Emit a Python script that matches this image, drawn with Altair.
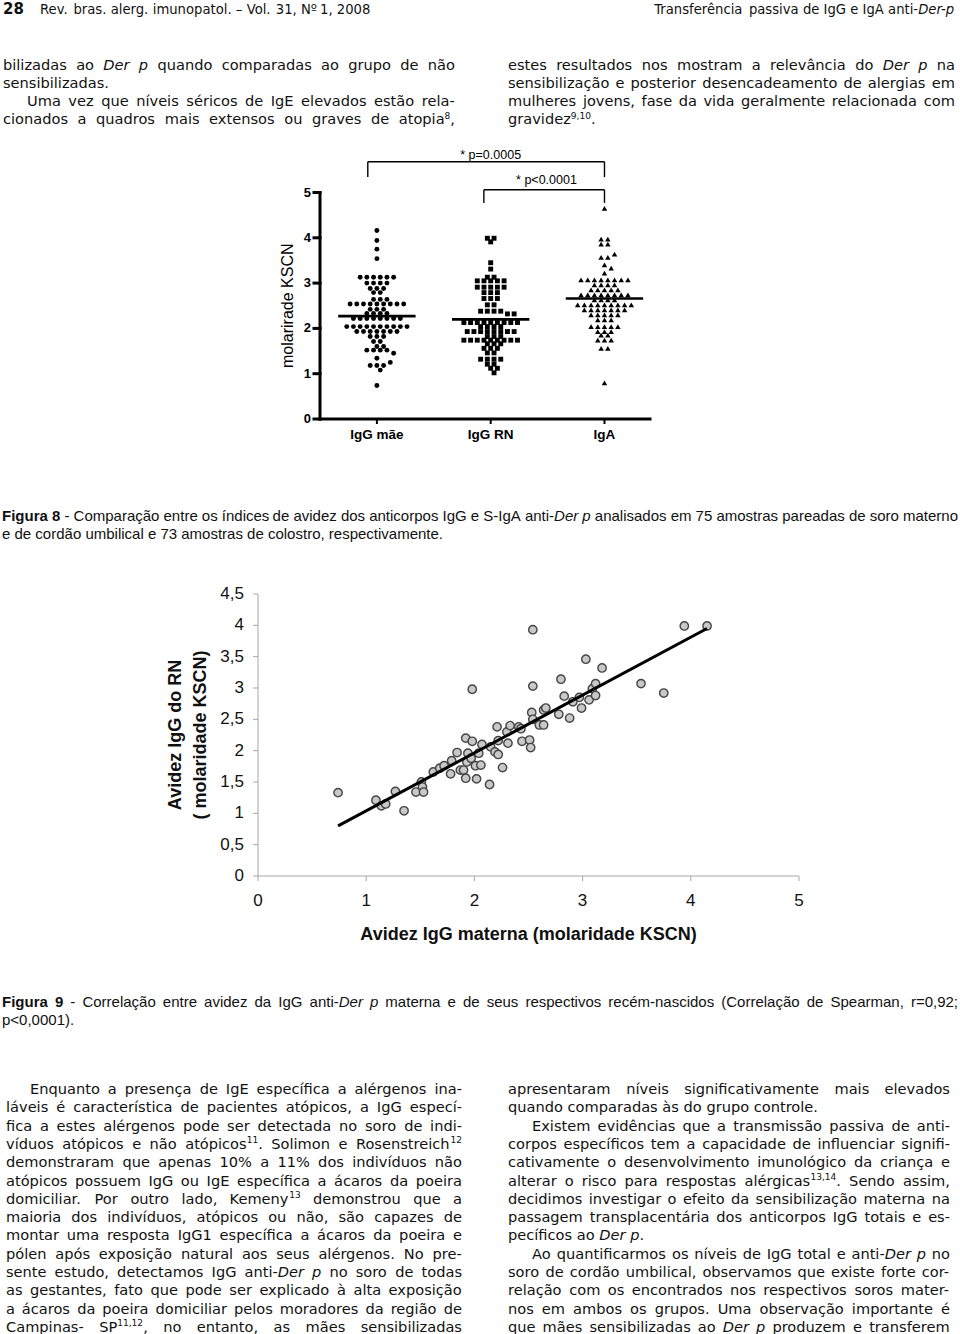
import unicodedata
import altair as alt
import pandas as pd

PAGE_W, PAGE_H = 960, 1334

# ======================= DATA =======================
# ---- Figure 8: dot plot rows (value of the row, number of dots in it) ----
fig8_groups = ["IgG mãe", "IgG RN", "IgA"]
mae_vals = [4.16, 3.94, 3.75, 3.54, 3.13, 3.00, 2.88, 2.79, 2.64, 2.54, 2.42, 2.33, 2.22,
            2.04, 1.93, 1.82, 1.71, 1.60, 1.52, 1.45, 1.34, 1.25, 1.18, 1.08, 0.74]
mae_cnts = [1, 1, 1, 1, 6, 4, 3, 2, 3, 9, 3, 4, 8, 10, 7, 3, 2, 2, 4, 1, 1, 1, 3, 1, 1]
rn_vals = [3.99, 3.91, 3.45, 3.31, 3.13, 3.05, 2.91, 2.79, 2.66, 2.52, 2.38, 2.32, 2.13,
           2.04, 1.93, 1.82, 1.74, 1.66, 1.56, 1.46, 1.32, 1.21, 1.12, 1.02]
rn_cnts = [2, 1, 1, 1, 2, 5, 5, 3, 3, 2, 4, 2, 9, 4, 8, 3, 9, 3, 3, 2, 4, 2, 2, 1]
iga_vals = [4.65, 3.97, 3.86, 3.64, 3.57, 3.40, 3.33, 3.22, 3.07, 2.96, 2.85, 2.74, 2.63,
            2.52, 2.41, 2.30, 2.19, 2.04, 1.93, 1.85, 1.74, 1.56, 0.80]
iga_cnts = [1, 2, 2, 1, 2, 1, 1, 1, 8, 4, 5, 8, 4, 9, 7, 5, 3, 5, 3, 2, 3, 2, 1]
fig8_medians = [2.27, 2.20, 2.66]
fig8_y_ticks = [0, 1, 2, 3, 4, 5]
fig8_y_title = "molarirade KSCN"

bracket_labels = ["* p=0.0005", "* p<0.0001"]
bracket_left = [0.92, 1.94]
bracket_right = [3.0, 3.0]
bracket_top = [5.68, 5.06]
bracket_foot = [5.34, 4.77]
bracket_label_x = [2.0, 2.49]
bracket_label_y = [5.83, 5.28]

# ---- Figure 9: maternal vs newborn IgG avidity ----
mat_avidity = [0.74, 1.09, 1.14, 1.18, 1.27, 1.35, 1.46, 1.51, 1.52, 1.53,
               1.62, 1.68, 1.72, 1.78, 1.79, 1.84, 1.87, 1.90, 1.92, 1.92,
               1.93, 1.94, 1.97, 1.98, 1.98, 2.01, 2.02, 2.04, 2.06, 2.07,
               2.14, 2.15, 2.19, 2.21, 2.22, 2.22, 2.26, 2.30, 2.31, 2.33,
               2.41, 2.43, 2.44, 2.51, 2.52, 2.53, 2.54, 2.54, 2.54, 2.60,
               2.64, 2.64, 2.66, 2.78, 2.80, 2.83, 2.88, 2.91, 2.97, 2.99,
               3.03, 3.06, 3.09, 3.12, 3.12, 3.18, 3.54, 3.75, 3.94, 4.15]
rn_avidity = [1.33, 1.21, 1.12, 1.15, 1.35, 1.04, 1.34, 1.50, 1.42, 1.34,
              1.66, 1.72, 1.76, 1.63, 1.84, 1.97, 1.69, 1.69, 2.20, 1.56,
              1.82, 1.96, 1.88, 2.98, 2.15, 1.76, 1.55, 1.96, 1.77, 2.10,
              1.46, 2.06, 1.98, 2.38, 1.94, 2.16, 1.73, 2.30, 2.12, 2.40,
              2.38, 2.35, 2.15, 2.17, 2.05, 2.61, 3.03, 3.93, 2.50, 2.41,
              2.41, 2.65, 2.68, 2.58, 3.14, 2.87, 2.52, 2.78, 2.85, 2.68,
              3.46, 2.81, 2.99, 2.88, 3.07, 3.32, 3.07, 2.92, 3.99, 3.99]
fit_x = [0.74, 4.15]
fit_y = [0.80, 3.95]
fig9_x_ticks = [0, 1, 2, 3, 4, 5]
fig9_y_ticks = [0, 0.5, 1, 1.5, 2, 2.5, 3, 3.5, 4, 4.5]
fig9_x_title = "Avidez IgG materna (molaridade KSCN)"
fig9_y_title = ["Avidez IgG do RN", "( molaridade KSCN)"]

# ---- Page text (markup: *italic*, #bold#, ^superscript^) ----
header_num = "28"
header_left = "Rev. bras. alerg. imunopatol. – Vol. 31, Nº 1, 2008"
header_right = "Transferência passiva de IgG e IgA anti-*Der-p*"

top_left_lines = [
    "bilizadas ao *Der p* quando comparadas ao grupo de não",
    "sensibilizadas.",
    "Uma vez que níveis séricos de IgE elevados estão rela-",
    "cionados a quadros mais extensos ou graves de atopia^8^,",
]
top_right_lines = [
    "estes resultados nos mostram a relevância do *Der p* na",
    "sensibilização e posterior desencadeamento de alergias em",
    "mulheres jovens, fase da vida geralmente relacionada com",
    "gravidez^9,10^.",
]
fig8_caption = [
    "#Figura 8# - Comparação entre os índices de avidez dos anticorpos IgG e S-IgA anti-*Der p* analisados em 75 amostras pareadas de soro materno",
    "e de cordão umbilical e 73 amostras de colostro, respectivamente.",
]
fig9_caption = [
    "#Figura 9# - Correlação entre avidez da IgG anti-*Der p* materna e de seus respectivos recém-nascidos (Correlação de Spearman, r=0,92;",
    "p<0,0001).",
]
bottom_left_lines = [
    "Enquanto a presença de IgE específica a alérgenos ina-",
    "láveis é característica de pacientes atópicos, a IgG especí-",
    "fica a estes alérgenos pode ser detectada no soro de indi-",
    "víduos atópicos e não atópicos^11^. Solimon e Rosenstreich^12^",
    "demonstraram que apenas 10% a 11% dos indivíduos não",
    "atópicos possuem IgG ou IgE específica a ácaros da poeira",
    "domiciliar. Por outro lado, Kemeny^13^ demonstrou que a",
    "maioria dos indivíduos, atópicos ou não, são capazes de",
    "montar uma resposta IgG1 específica a ácaros da poeira e",
    "pólen após exposição natural aos seus alérgenos. No pre-",
    "sente estudo, detectamos IgG anti-*Der p* no soro de todas",
    "as gestantes, fato que pode ser explicado à alta exposição",
    "a ácaros da poeira domiciliar pelos moradores da região de",
    "Campinas- SP^11,12^, no entanto, as mães sensibilizadas",
]
bottom_right_lines = [
    "apresentaram níveis significativamente mais elevados",
    "quando comparadas às do grupo controle.",
    "Existem evidências que a transmissão passiva de anti-",
    "corpos específicos tem a capacidade de influenciar signifi-",
    "cativamente o desenvolvimento imunológico da criança e",
    "alterar o risco para respostas alérgicas^13,14^. Sendo assim,",
    "decidimos investigar o efeito da sensibilização materna na",
    "passagem transplacentária dos anticorpos IgG totais e es-",
    "pecíficos ao *Der p*.",
    "Ao quantificarmos os níveis de IgG total e anti-*Der p* no",
    "soro de cordão umbilical, observamos que existe forte cor-",
    "relação com os encontrados nos respectivos soros mater-",
    "nos em ambos os grupos. Uma observação importante é",
    "que mães sensibilizadas ao *Der p* produzem e transferem",
]
# paragraph structure (which lines start / end a paragraph)
top_left_par_start, top_left_par_end = {2}, {1}
top_right_par_start, top_right_par_end = set(), {3}
bottom_left_par_start, bottom_left_par_end = {0}, set()
bottom_right_par_start, bottom_right_par_end = {2, 9}, {1, 8}

# ======================= TEXT LAYOUT =======================
DV = {}
for ch, w in zip("ABCDEFGHIJKLMNOPQRSTUVWXYZ",
                 [1401, 1405, 1430, 1577, 1294, 1178, 1587, 1540, 604, 604, 1343, 1141, 1767,
                  1532, 1612, 1235, 1612, 1423, 1300, 1251, 1499, 1401, 2025, 1403, 1251, 1403]):
    DV[ch] = w / 2048
for ch, w in zip("abcdefghijklmnopqrstuvwxyz",
                 [1255, 1300, 1126, 1300, 1260, 721, 1300, 1298, 569, 569, 1186, 569, 1995,
                  1298, 1253, 1300, 1300, 842, 1067, 803, 1298, 1212, 1675, 1212, 1212, 1075]):
    DV[ch] = w / 2048
for ch in "0123456789":
    DV[ch] = 1303 / 2048
for ch, w in {' ': 651, ',': 651, '.': 651, '-': 739, '(': 799, ')': 799, ':': 690, ';': 690,
              '%': 1946, '<': 1716, '=': 1716, '–': 1024, 'º': 768, '*': 1024}.items():
    DV[ch] = w / 2048

AR = {}
for ch, w in zip("ABCDEFGHIJKLMNOPQRSTUVWXYZ",
                 [667, 667, 722, 722, 667, 611, 778, 722, 278, 500, 667, 556, 833, 722, 778, 667,
                  778, 722, 667, 611, 722, 667, 944, 667, 667, 611]):
    AR[ch] = w / 1000
for ch, w in zip("abcdefghijklmnopqrstuvwxyz",
                 [556, 556, 500, 556, 556, 278, 556, 556, 222, 222, 500, 222, 833, 556, 556, 556,
                  556, 333, 500, 278, 556, 500, 722, 500, 500, 500]):
    AR[ch] = w / 1000
for ch in "0123456789":
    AR[ch] = 0.556
for ch, w in {' ': 278, ',': 278, '.': 278, '-': 333, '(': 333, ')': 333, ':': 278, ';': 278,
              '%': 889, '<': 584, '=': 584, '*': 389}.items():
    AR[ch] = w / 1000
ARB = dict(AR)
for ch, w in zip("abcdefghijklmnopqrstuvwxyz",
                 [556, 611, 556, 611, 556, 333, 611, 611, 278, 278, 556, 278, 889, 611, 611, 611,
                  611, 389, 556, 333, 611, 556, 778, 556, 556, 500]):
    ARB[ch] = w / 1000

FONTS = {"dv": "DejaVu Sans", "ar": "Liberation Sans"}
SUP_SCALE, SUP_RISE = 0.62, 0.40


def char_w(ch, fam, bold):
    table = DV if fam == "dv" else (ARB if bold else AR)
    if ch in table:
        return table[ch]
    base = unicodedata.normalize("NFD", ch)[0]
    return table.get(base, 0.6)


def seg_w(text, fam, bold, sup, size):
    s = size * (SUP_SCALE if sup else 1.0)
    return sum(char_w(c, fam, bold) for c in text) * s


def parse(markup):
    words, it, bold, sup = [], False, False, False
    for raw in markup.split(" "):
        segs, buf = [], ""
        for ch in raw:
            if ch in "*#^":
                if buf:
                    segs.append((buf, it, bold, sup))
                    buf = ""
                if ch == "*":
                    it = not it
                elif ch == "#":
                    bold = not bold
                else:
                    sup = not sup
            else:
                buf += ch
        if buf:
            segs.append((buf, it, bold, sup))
        if segs:
            words.append(segs)
    return words


items = []


def add_item(text, x, y, size, fam, it, bold):
    items.append({"text": text, "x": x, "y": y, "size": size, "fam": fam,
                  "it": bool(it), "bold": bool(bold)})


def line_width(markup, fam, size):
    words = parse(markup)
    ws = [sum(seg_w(t, fam, b, s, size) for t, i, b, s in w) for w in words]
    return sum(ws) + char_w(" ", fam, False) * size * (len(words) - 1)


def set_line(markup, x0, x1, y, size, fam, justify):
    words = parse(markup)
    ws = [sum(seg_w(t, fam, b, s, size) for t, i, b, s in w) for w in words]
    space = char_w(" ", fam, False) * size
    gap = space
    if justify and len(words) > 1:
        gap = max((x1 - x0 - sum(ws)) / (len(words) - 1), space * 0.45)
    x = x0
    for w, wd in zip(words, ws):
        cx = x
        for t, i, b, s in w:
            if s:
                add_item(t, cx, y - SUP_RISE * size, size * SUP_SCALE, fam, i, b)
            else:
                add_item(t, cx, y, size, fam, i, b)
            cx += seg_w(t, fam, b, s, size)
        x += wd + gap


def set_block(lines, x0, x1, y0, lh, size, fam, starts, ends, indent=24):
    for k, ln in enumerate(lines):
        xs = x0 + (indent if k in starts else 0)
        set_line(ln, xs, x1, y0 + k * lh, size, fam, k not in ends)


BODY = 14.6
LH = 18.3
add_item(header_num, 3, 14, 15, "dv", False, True)
set_line(header_left, 40, 400, 13.5, 13.2, "dv", False)
set_line(header_right, 955 - line_width(header_right, "dv", 13.2), 955, 13.5, 13.2, "dv", False)
set_block(top_left_lines, 3, 455, 69.5, LH, BODY, "dv", top_left_par_start, top_left_par_end)
set_block(top_right_lines, 508, 955, 69.5, LH, BODY, "dv", top_right_par_start, top_right_par_end)
set_block(fig8_caption, 2, 958, 521, 18, 15, "ar", set(), {1})
set_block(fig9_caption, 2, 958, 1007, 18, 15, "ar", set(), {1})
set_block(bottom_left_lines, 6, 462, 1094, LH, BODY, "dv", bottom_left_par_start, bottom_left_par_end)
set_block(bottom_right_lines, 508, 950, 1094, LH, BODY, "dv", bottom_right_par_start, bottom_right_par_end)

tdf = pd.DataFrame(items)
text_layers = []
for (fam, it, bold), sub in tdf.groupby(["fam", "it", "bold"]):
    text_layers.append(
        alt.Chart(sub.reset_index(drop=True)).mark_text(
            font=FONTS[fam], fontStyle="italic" if it else "normal",
            fontWeight="bold" if bold else "normal", align="left",
            baseline="alphabetic", color="#111"
        ).encode(
            x=alt.X("x:Q", scale=None, axis=None),
            y=alt.Y("y:Q", scale=None, axis=None),
            text="text:N",
            size=alt.Size("size:Q", scale=None),
        )
    )


# ======================= helpers for scaled marks =======================
def rule_layer(segments, sx, sy, color, width, cap="butt"):
    return alt.Chart(pd.DataFrame(segments)).mark_rule(
        color=color, strokeWidth=width, strokeCap=cap
    ).encode(
        x=alt.X("xa:Q", scale=sx, axis=None), x2="xb:Q",
        y=alt.Y("ya:Q", scale=sy, axis=None), y2="yb:Q",
    )


def text_layer(tx, ty, labels, sx, sy, **kw):
    return alt.Chart(pd.DataFrame({"tx": tx, "ty": ty, "t": labels})).mark_text(**kw).encode(
        x=alt.X("tx:Q", scale=sx, axis=None),
        y=alt.Y("ty:Q", scale=sy, axis=None),
        text="t:N",
    )


# ======================= FIGURE 8 =======================
X8_DOMAIN, X8_RANGE = [0.5, 3.4], [320, 650]
Y8_DOMAIN, Y8_RANGE = [0, 5], [419, 192.5]
PX_X8 = (X8_RANGE[1] - X8_RANGE[0]) / (X8_DOMAIN[1] - X8_DOMAIN[0])
PX_Y8 = (Y8_RANGE[0] - Y8_RANGE[1]) / (Y8_DOMAIN[1] - Y8_DOMAIN[0])
DOT_STEP, MIN_DIST = 6.7, 4.7


def swarm(vals, cnts):
    order = sorted(range(len(vals)), key=lambda i: -cnts[i])
    placed, out = [], []
    shifts = [0, 0.5, -0.5, 1, -1, 1.5, -1.5, 2, -2, 2.5, -2.5, 3, -3]
    for i in order:
        n, ypx = cnts[i], vals[i] * PX_Y8
        base = [(k - (n - 1) / 2) * DOT_STEP for k in range(n)]
        xs = base
        for s in shifts:
            xs = [b + s * DOT_STEP for b in base]
            if all((x - px) ** 2 + (ypx - py) ** 2 >= MIN_DIST ** 2
                   for x in xs for (px, py) in placed):
                break
        for x in xs:
            placed.append((x, ypx))
            out.append((vals[i], x / PX_X8))
    return out


recs = []
for g, (v, c) in enumerate([(mae_vals, mae_cnts), (rn_vals, rn_cnts), (iga_vals, iga_cnts)], start=1):
    for val, off in swarm(v, c):
        recs.append({"grp": g, "xpos": g + off, "val": val})
d8 = pd.DataFrame(recs)

sx8 = alt.Scale(domain=X8_DOMAIN, range=X8_RANGE, nice=False, zero=False)
sy8 = alt.Scale(domain=Y8_DOMAIN, range=Y8_RANGE, nice=False, zero=False)

shapes8 = ["circle", "square", "triangle-up"]
sizes8 = [24, 24, 30]
pts8 = []
for g in (1, 2, 3):
    pts8.append(
        alt.Chart(d8[d8.grp == g].reset_index(drop=True)).mark_point(
            shape=shapes8[g - 1], filled=True, color="black", size=sizes8[g - 1], opacity=1
        ).encode(
            x=alt.X("xpos:Q", scale=sx8, axis=None),
            y=alt.Y("val:Q", scale=sy8, axis=None),
        )
    )

MED_HALF = 0.34
med8 = rule_layer([{"xa": i + 1 - MED_HALF, "xb": i + 1 + MED_HALF, "ya": m, "yb": m}
                   for i, m in enumerate(fig8_medians)], sx8, sy8, "black", 2.6)

segs = []
for l, r, t, f in zip(bracket_left, bracket_right, bracket_top, bracket_foot):
    segs += [{"xa": l, "xb": r, "ya": t, "yb": t},
             {"xa": l, "xb": l, "ya": t, "yb": f},
             {"xa": r, "xb": r, "ya": t, "yb": f}]
brk8 = rule_layer(segs, sx8, sy8, "black", 1.4)
brk8_txt = text_layer(bracket_label_x, bracket_label_y, bracket_labels, sx8, sy8,
                      font="Liberation Sans", fontSize=12.5, color="black",
                      align="center", baseline="middle")

# axes of figure 8 (drawn through the figure's scales)
x0_8, y0_8 = X8_DOMAIN[0], Y8_DOMAIN[0]
axis8 = rule_layer(
    [{"xa": x0_8, "xb": x0_8, "ya": Y8_DOMAIN[0], "yb": Y8_DOMAIN[1]},
     {"xa": X8_DOMAIN[0], "xb": X8_DOMAIN[1], "ya": y0_8, "yb": y0_8}]
    + [{"xa": x0_8 - 6 / PX_X8, "xb": x0_8, "ya": v, "yb": v} for v in fig8_y_ticks],
    sx8, sy8, "black", 3, cap="square")
xticks8 = rule_layer([{"xa": g, "xb": g, "ya": y0_8, "yb": y0_8 - 5 / PX_Y8} for g in (1, 2, 3)],
                     sx8, sy8, "black", 2)
ylab8 = text_layer([x0_8 - 9 / PX_X8] * len(fig8_y_ticks), fig8_y_ticks,
                   [str(v) for v in fig8_y_ticks], sx8, sy8,
                   font="Liberation Sans", fontSize=13, fontWeight="bold", color="black",
                   align="right", baseline="middle")
xlab8 = text_layer([1, 2, 3], [y0_8 - 16 / PX_Y8] * 3, fig8_groups, sx8, sy8,
                   font="Liberation Sans", fontSize=13.5, fontWeight="bold", color="black",
                   align="center", baseline="middle")
ytitle8 = text_layer([x0_8 - 32 / PX_X8], [sum(Y8_DOMAIN) / 2], [fig8_y_title], sx8, sy8,
                     font="Liberation Sans", fontSize=16, color="black", angle=270,
                     align="center", baseline="middle")
fig8 = alt.layer(axis8, xticks8, ylab8, xlab8, ytitle8, *pts8, med8, brk8, brk8_txt)

# ======================= FIGURE 9 =======================
X9_DOMAIN, X9_RANGE = [0, 5], [258, 799]
Y9_DOMAIN, Y9_RANGE = [0, 4.5], [876, 594]
PX_X9 = (X9_RANGE[1] - X9_RANGE[0]) / (X9_DOMAIN[1] - X9_DOMAIN[0])
PX_Y9 = (Y9_RANGE[0] - Y9_RANGE[1]) / (Y9_DOMAIN[1] - Y9_DOMAIN[0])
sx9 = alt.Scale(domain=X9_DOMAIN, range=X9_RANGE, nice=False, zero=False)
sy9 = alt.Scale(domain=Y9_DOMAIN, range=Y9_RANGE, nice=False, zero=False)
x0_9, y0_9 = X9_DOMAIN[0], Y9_DOMAIN[0]
AXIS9_GREY = "#a8a8a8"

axis9 = rule_layer(
    [{"xa": x0_9, "xb": x0_9, "ya": Y9_DOMAIN[0], "yb": Y9_DOMAIN[1]},
     {"xa": X9_DOMAIN[0], "xb": X9_DOMAIN[1], "ya": y0_9, "yb": y0_9}]
    + [{"xa": x0_9 - 5 / PX_X9, "xb": x0_9, "ya": v, "yb": v} for v in fig9_y_ticks]
    + [{"xa": v, "xb": v, "ya": y0_9, "yb": y0_9 - 5 / PX_Y9} for v in fig9_x_ticks],
    sx9, sy9, AXIS9_GREY, 1)
ylab9 = text_layer([x0_9 - 14 / PX_X9] * len(fig9_y_ticks), fig9_y_ticks,
                   [f"{v:g}".replace(".", ",") for v in fig9_y_ticks], sx9, sy9,
                   font="Liberation Sans", fontSize=17, color="#111",
                   align="right", baseline="middle")
xlab9 = text_layer(fig9_x_ticks, [y0_9 - 25 / PX_Y9] * len(fig9_x_ticks),
                   [str(v) for v in fig9_x_ticks], sx9, sy9,
                   font="Liberation Sans", fontSize=17, color="#111",
                   align="center", baseline="middle")
xtitle9 = text_layer([sum(X9_DOMAIN) / 2], [y0_9 - 59 / PX_Y9], [fig9_x_title], sx9, sy9,
                     font="Liberation Sans", fontSize=18, fontWeight="bold", color="#111",
                     align="center", baseline="middle")
ytitle9 = text_layer([x0_9 - 82 / PX_X9, x0_9 - 57 / PX_X9], [sum(Y9_DOMAIN) / 2] * 2,
                     fig9_y_title, sx9, sy9,
                     font="Liberation Sans", fontSize=18, fontWeight="bold", color="#111",
                     angle=270, align="center", baseline="middle")

d9 = pd.DataFrame({"mat": mat_avidity, "rn": rn_avidity})
pts9 = alt.Chart(d9).mark_circle(
    fill="#c8c8c8", stroke="#454545", strokeWidth=1.4, size=70, opacity=1
).encode(
    x=alt.X("mat:Q", scale=sx9, axis=None),
    y=alt.Y("rn:Q", scale=sy9, axis=None),
)
fit9 = alt.Chart(pd.DataFrame({"fx": fit_x, "fy": fit_y})).mark_line(
    color="black", strokeWidth=3
).encode(
    x=alt.X("fx:Q", scale=sx9, axis=None),
    y=alt.Y("fy:Q", scale=sy9, axis=None),
)
fig9 = alt.layer(axis9, ylab9, xlab9, xtitle9, ytitle9, pts9, fit9)

chart = alt.layer(*text_layers, fig8, fig9).resolve_scale(
    x="independent", y="independent"
).properties(
    width=PAGE_W, height=PAGE_H, autosize=alt.AutoSizeParams(type="none"), padding=0,
    background="white",
).configure_view(stroke=None)

chart.save("out.html", embed_options={"renderer": "svg", "actions": False})
